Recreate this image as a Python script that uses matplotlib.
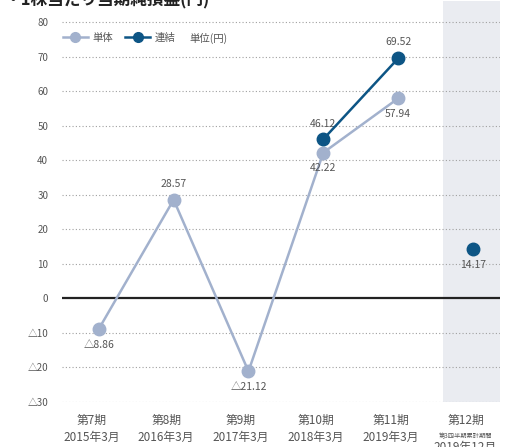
import matplotlib
matplotlib.use("Agg")
import matplotlib.pyplot as plt
from matplotlib.lines import Line2D

plt.rcParams['font.family'] = ['Noto Sans CJK JP', 'DejaVu Sans']

periods = ["第7期", "第8期", "第9期", "第10期", "第11期", "第12期"]
dates = ["2015年3月", "2016年3月", "2017年3月", "2018年3月", "2019年3月", "2019年12月"]
tanntai = [-8.86, 28.57, -21.12, 42.22, 57.94]
renketsu_x = [3, 4]
renketsu = [46.12, 69.52]
q3_value = 14.17
yticks = [80, 70, 60, 50, 40, 30, 20, 10, 0, -10, -20, -30]

light = "#a2b1cd"
dark = "#0d5585"
grey = "#555555"


def fmt(v):
    return ("△%.2f" % -v) if v < 0 else "%.2f" % v


fig = plt.figure(figsize=(5.05, 4.47), dpi=100)
ax = fig.add_axes([0.123, 0.1007, 0.867, 0.896])
ax.set_xlim(-0.49, 5.36)
ax.set_ylim(-30, 86)

# third-quarter column background
ax.axvspan(4.6, 5.36, color="#eaecf1", zorder=0, lw=0)

for t in yticks:
    if t == 0:
        ax.axhline(0, color="#222222", lw=1.6, zorder=1)
    else:
        ax.axhline(t, color="#a0a0a0", lw=0.8, ls=(0, (1, 2)), zorder=1)

ax.plot(range(len(tanntai)), tanntai, color=light, lw=1.8, marker="o",
        ms=9, zorder=3)
ax.plot(renketsu_x, renketsu, color=dark, lw=1.8, marker="o", ms=9, zorder=4)
ax.plot([5], [q3_value], color=dark, marker="o", ms=9, ls="none", zorder=4)

# value labels
below = {0: True, 1: False, 2: True, 3: True, 4: True}
for i, v in enumerate(tanntai):
    off = -4.5 if below[i] else 4.5
    ax.text(i, v + off, fmt(v), ha="center", va="center", fontsize=7.5,
            color=grey, zorder=5)
ax.text(3, renketsu[0] + 4.5, fmt(renketsu[0]), ha="center", va="center",
        fontsize=7.5, color=grey)
ax.text(4, renketsu[1] + 4.8, fmt(renketsu[1]), ha="center", va="center",
        fontsize=7.5, color=grey)
ax.text(5, q3_value - 4.5, fmt(q3_value), ha="center", va="center",
        fontsize=7.5, color=grey)

ax.set_yticks(yticks)
ax.set_yticklabels([("△%d" % -t) if t < 0 else str(t) for t in yticks],
                   fontsize=7, color=grey)
ax.tick_params(axis="y", length=0, pad=10)
ax.set_xticks([])
for s in ax.spines.values():
    s.set_visible(False)

# category labels
for i, (p, d) in enumerate(zip(periods, dates)):
    ax.text(i - 0.1, -33.5, p, ha="center", va="top", fontsize=8.5,
            color=grey, clip_on=False)
    if i == 5:
        ax.text(i - 0.1, -38.8, "第3四半期累計期間", ha="center", va="top",
                fontsize=4.5, color=grey, clip_on=False)
        ax.text(i - 0.1, -41.3, d, ha="center", va="top", fontsize=8.5,
                color=grey, clip_on=False)
    else:
        ax.text(i - 0.1, -38.5, d, ha="center", va="top", fontsize=8.5,
                color=grey, clip_on=False)

# legend
handles = [Line2D([], [], color=light, lw=1.8, marker="o", ms=7),
           Line2D([], [], color=dark, lw=1.8, marker="o", ms=7)]
leg = ax.legend(handles, ["単体", "連結"], loc="center left",
                bbox_to_anchor=(-0.01, 0.909), ncol=2, frameon=False,
                fontsize=7.5, handlelength=2.4, columnspacing=1.2,
                handletextpad=0.4, borderpad=0)
for txt in leg.get_texts():
    txt.set_color(grey)
ax.text(0.29, 0.909, "単位(円)", transform=ax.transAxes, fontsize=7.5,
        color=grey, va="center")

fig.text(0.01, 1.0, "・1株当たり当期純損益(円)", fontsize=12, fontweight="bold",
         color="#222222", va="center", ha="left")

fig.savefig("out.png", dpi=100)
